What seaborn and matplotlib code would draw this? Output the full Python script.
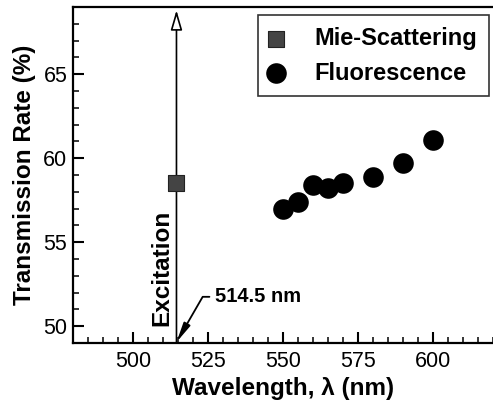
import pandas as pd
import matplotlib.pyplot as plt
import seaborn as sns
from matplotlib.ticker import MultipleLocator

# Dados
mie_x = [514.5]
mie_y = [58.5]
fluo_x = [550, 555, 560, 565, 570, 580, 590, 600]
fluo_y = [57.0, 57.4, 58.4, 58.2, 58.5, 58.9, 59.7, 61.1]
excitacao = 514.5

sns.set_style('ticks')
plt.rcParams['font.family'] = ['Liberation Sans', 'DejaVu Sans']
plt.rcParams['text.color'] = 'black'
plt.rcParams['axes.labelcolor'] = 'black'
plt.rcParams['axes.axisbelow'] = False

fig = plt.figure(figsize=(4.93, 4.05), dpi=100)
ax = fig.add_axes([0.148, 0.153, 0.852, 0.830])

mie_df = pd.DataFrame({'x': mie_x, 'y': mie_y})
fluo_df = pd.DataFrame({'x': fluo_x, 'y': fluo_y})

# Linha de excitação com seta aberta
ax.annotate('', xy=(excitacao, 68.8), xytext=(excitacao, 49),
            arrowprops=dict(arrowstyle='-|>,head_length=1.2,head_width=0.35',
                            lw=1.2, color='black', fc='white', shrinkA=0, shrinkB=0),
            zorder=2)

sns.scatterplot(data=mie_df, x='x', y='y', ax=ax, marker='s', s=120,
                color='#444444', edgecolor='#222222', linewidth=0.8,
                label='Mie-Scattering', zorder=3)
sns.scatterplot(data=fluo_df, x='x', y='y', ax=ax, marker='o', s=220,
                color='black', edgecolor='black', linewidth=0,
                label='Fluorescence', zorder=3)

ax.text(509.8, 53.5, 'Excitation', rotation=90, ha='center', va='center',
        fontsize=17.5, fontweight='bold')
ax.annotate('514.5 nm', xy=(excitacao, 49.05), xytext=(527.5, 51.75),
            fontsize=14.5, fontweight='bold', va='center',
            arrowprops=dict(arrowstyle='-|>,head_length=0.8,head_width=0.15',
                            connectionstyle='angle,angleA=0,angleB=60,rad=0',
                            lw=1.3, color='black', shrinkA=2, shrinkB=0))

ax.set_xlim(480, 620)
ax.set_ylim(49, 69)
ax.xaxis.set_major_locator(MultipleLocator(25))
ax.xaxis.set_minor_locator(MultipleLocator(5))
ax.yaxis.set_major_locator(MultipleLocator(5))
ax.yaxis.set_minor_locator(MultipleLocator(1))
ax.tick_params(which='both', direction='in', color='black', bottom=True, left=True,
               top=False, right=False, labelsize=15.5, labelcolor='black')
ax.tick_params(which='major', length=8, width=1.5)
ax.tick_params(which='minor', length=4.5, width=1.1)
ax.tick_params(axis='x', pad=6)
ax.tick_params(axis='y', pad=4)

for lado in ['left', 'bottom', 'top']:
    ax.spines[lado].set_linewidth(1.6)
    ax.spines[lado].set_color('black')
ax.spines['right'].set_visible(False)

ax.set_xlabel('Wavelength, λ (nm)', fontsize=17.5, fontweight='bold', labelpad=3)
ax.set_ylabel('Transmission Rate (%)', fontsize=17.5, fontweight='bold', labelpad=5)

leg = ax.legend(loc='upper right', bbox_to_anchor=(0.99, 0.976), borderaxespad=0,
                frameon=True, fancybox=False, edgecolor='black',
                prop={'weight': 'bold', 'size': 17},
                handlelength=0.6, handletextpad=1.3, borderpad=0.5,
                labelspacing=0.5, markerscale=1.0)
leg.get_frame().set_linewidth(1.2)
for txt in leg.get_texts():
    txt.set_color('black')

plt.savefig('out.png', dpi=100)
